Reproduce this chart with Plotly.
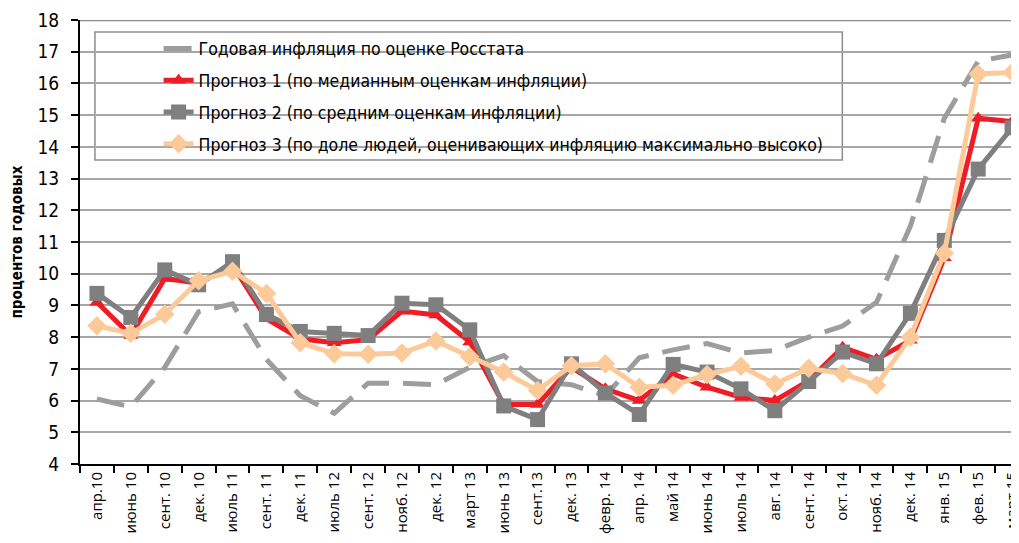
import plotly.graph_objects as go

categories = ["апр.10", "июнь 10", "сент. 10", "дек. 10", "июль 11", "сент. 11", "дек. 11",
              "июль 12", "сент. 12", "нояб. 12", "дек. 12", "март 13", "июнь 13", "сент.13",
              "дек. 13", "февр. 14", "апр. 14", "май 14", "июнь 14", "июль 14", "авг. 14",
              "сент. 14", "окт. 14", "нояб. 14", "дек. 14", "янв. 15", "фев. 15", "март 15"]

rosstat = [6.05, 5.8, 7.05, 8.8, 9.05, 7.3, 6.15, 5.6, 6.55, 6.55, 6.5, 7.05, 7.42, 6.6,
           6.5, 6.15, 7.35, 7.6, 7.8, 7.5, 7.58, 8.0, 8.35, 9.1, 11.5, 14.9, 16.7, 16.9]

forecast1 = [9.1, 8.05, 9.85, 9.7, 10.28, 8.58, 7.95, 7.82, 7.92, 8.82, 8.7, 7.85, 5.88, 5.88,
             7.05, 6.37, 6.0, 6.84, 6.42, 6.1, 6.0, 6.63, 7.68, 7.3, 7.9, 10.5, 14.9, 14.8]

forecast2 = [9.38, 8.62, 10.12, 9.65, 10.38, 8.72, 8.18, 8.12, 8.05, 9.07, 9.02, 8.23, 5.83, 5.4,
             7.16, 6.24, 5.56, 7.14, 6.9, 6.37, 5.68, 6.6, 7.53, 7.16, 8.75, 11.05, 13.3, 14.6]

forecast3 = [8.36, 8.12, 8.72, 9.78, 10.08, 9.38, 7.82, 7.48, 7.46, 7.5, 7.88, 7.38, 6.9, 6.32,
             7.1, 7.16, 6.42, 6.48, 6.82, 7.08, 6.52, 7.02, 6.85, 6.48, 8.0, 10.65, 16.3, 16.35]

names = ["Годовая инфляция по оценке Росстата",
         "Прогноз 1 (по медианным оценкам инфляции)",
         "Прогноз 2 (по средним оценкам инфляции)",
         "Прогноз 3 (по доле людей, оценивающих инфляцию максимально высоко)"]

y_ticks = list(range(4, 19))

NARROW = "Liberation Sans Narrow, DejaVu Sans Condensed, Arial Narrow, sans-serif"

fig = go.Figure()
fig.add_trace(go.Scatter(x=categories, y=rosstat, name=names[0], mode="lines",
                         line=dict(color="#9d9d9d", width=5, dash="28px,14px"),
                         legendgroup="a"))
fig.add_trace(go.Scatter(x=categories, y=forecast1, name=names[1], mode="lines+markers",
                         line=dict(color="#ee1c25", width=5),
                         marker=dict(symbol="triangle-up", size=13, color="#ee1c25"),
                         legendgroup="b"))
fig.add_trace(go.Scatter(x=categories, y=forecast2, name=names[2], mode="lines+markers",
                         line=dict(color="#7f7f7f", width=5),
                         marker=dict(symbol="square", size=15, color="#7f7f7f"),
                         legendgroup="c"))
fig.add_trace(go.Scatter(x=categories, y=forecast3, name=names[3], mode="lines+markers",
                         line=dict(color="#fcca98", width=5),
                         marker=dict(symbol="diamond", size=15, color="#fcca98"),
                         legendgroup="d"))

# plot area: x from 80 px to right edge, y from 20 px (18) to 464 px (4), page has 8px body margin
fig.update_layout(
    width=1019, height=543,
    margin=dict(l=72, r=0, t=12, b=87),
    paper_bgcolor="white", plot_bgcolor="white",
    font=dict(family=NARROW, color="black"),
    showlegend=True,
    legend=dict(x=0.083, y=0.976, xanchor="left", yanchor="top",
                bgcolor="rgba(0,0,0,0)", borderwidth=0,
                font=dict(family=NARROW, size=17.5, color="black"),
                tracegroupgap=6, itemwidth=30),
    shapes=[
        dict(type="rect", xref="paper", yref="paper", x0=0.0158, x1=0.805, y0=0.6847, y1=0.973,
             line=dict(color="#8c8c8c", width=1.5), fillcolor="white", layer="between"),
        dict(type="line", xref="paper", yref="y", x0=0, x1=1, y0=18, y1=18,
             line=dict(color="#8c8c8c", width=2.5), layer="between"),
    ],
)

fig.update_xaxes(
    type="category", range=[-0.5, 27.44],
    showgrid=False, showline=True, linecolor="black", linewidth=2,
    ticks="outside", tickson="boundaries", ticklen=7, tickwidth=2, tickcolor="black",
    tickangle=-90, tickfont=dict(family="Open Sans, sans-serif", size=15, color="black"),
    automargin=False,
)
fig.update_yaxes(
    range=[4, 18], tickvals=y_ticks,
    showgrid=True, gridcolor="#a6a6a6", gridwidth=1.5,
    showline=True, linecolor="black", linewidth=2,
    ticks="outside", ticklen=7, tickwidth=2, tickcolor="black", ticklabelstandoff=8,
    tickfont=dict(family=NARROW, size=19, color="black"),
    title=dict(text="<b>процентов годовых</b>", standoff=12,
               font=dict(family="DejaVu Sans Condensed, Liberation Sans Narrow, sans-serif", size=15)),
    automargin=False, zeroline=False,
)

fig.write_html("out.html")
